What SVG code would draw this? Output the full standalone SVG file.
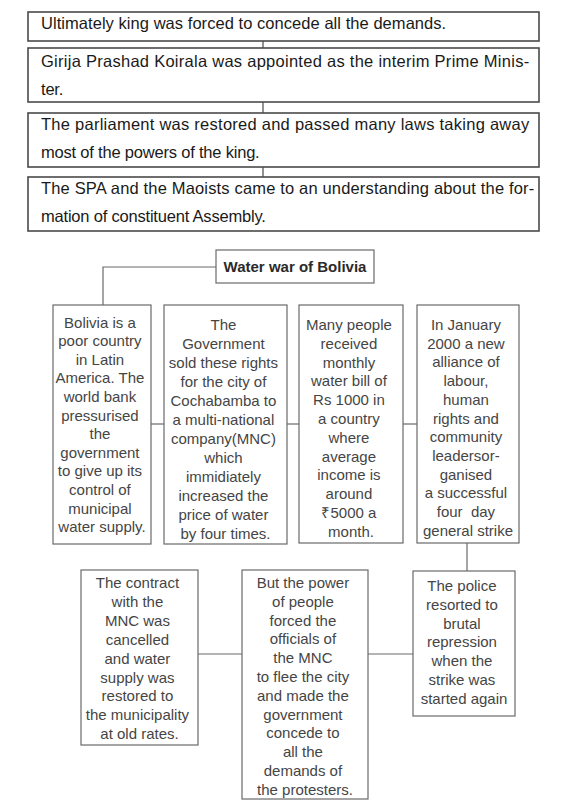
<svg xmlns="http://www.w3.org/2000/svg" width="577" height="802" viewBox="0 0 577 802">
<style>
.bg{fill:#ffffff}
.tb{fill:#ffffff;stroke:#4a4a4a;stroke-width:1.6}
.bb{fill:#ffffff;stroke:#6a6a6a;stroke-width:1.2}
.tt{font-family:"Liberation Sans",Arial,sans-serif;font-size:16.5px;fill:#1a1a1a;letter-spacing:-0.2px}
.bt{font-family:"Liberation Sans",Arial,sans-serif;font-size:15px;fill:#454545;text-anchor:middle}
.hd{font-family:"Liberation Sans",Arial,sans-serif;font-size:15px;font-weight:bold;fill:#2a2a2a;text-anchor:middle}
.ln{fill:none;stroke:#6a6a6a;stroke-width:1.2}
.tl{fill:none;stroke:#4a4a4a;stroke-width:1.2}
</style>
<rect class="bg" x="0" y="0" width="577" height="802"/>
<g id="connectors">
<line class="tl" x1="263" y1="41" x2="263" y2="48"/>
<line class="tl" x1="263" y1="102" x2="263" y2="113"/>
<line class="tl" x1="263" y1="167" x2="263" y2="177"/>
<polyline class="ln" points="216,267 103,267 103,305"/>
<line class="ln" x1="151" y1="424" x2="164" y2="424"/>
<line class="ln" x1="287" y1="424" x2="299" y2="424"/>
<line class="ln" x1="403" y1="424" x2="417" y2="424"/>
<line class="ln" x1="467" y1="543" x2="467" y2="571"/>
<line class="ln" x1="198" y1="654" x2="242" y2="654"/>
<line class="ln" x1="368" y1="654" x2="413" y2="654"/>
</g>
<g id="n1">
<rect class="tb" x="28" y="12" width="511" height="29"/>
<text class="tt" x="41" y="29" textLength="405" lengthAdjust="spacing">Ultimately king was forced to concede all the demands.</text>
</g>
<g id="n2">
<rect class="tb" x="28" y="48" width="511" height="54"/>
<text class="tt" x="41" y="67" textLength="488" lengthAdjust="spacing">Girija Prashad Koirala was appointed as the interim Prime Minis-</text>
<text class="tt" x="41" y="95">ter.</text>
</g>
<g id="n3">
<rect class="tb" x="28" y="113" width="511" height="54"/>
<text class="tt" x="41" y="130" textLength="488" lengthAdjust="spacing">The parliament was restored and passed many laws taking away</text>
<text class="tt" x="41" y="158">most of the powers of the king.</text>
</g>
<g id="n4">
<rect class="tb" x="28" y="177" width="511" height="54"/>
<text class="tt" x="41" y="194" textLength="493" lengthAdjust="spacing">The SPA and the Maoists came to an understanding about the for-</text>
<text class="tt" x="41" y="222">mation of constituent Assembly.</text>
</g>
<g id="title">
<rect class="bb" x="216" y="250" width="158" height="33"/>
<text class="hd" x="295" y="272">Water war of Bolivia</text>
</g>
<g id="b1">
<rect class="bb" x="53" y="305" width="98" height="239"/>
<text class="bt" x="102" y="327.5">
<tspan x="102" dy="0">Bolivia is a</tspan>
<tspan x="102" dy="18.6">poor country</tspan>
<tspan x="102" dy="18.6">in Latin</tspan>
<tspan x="102" dy="18.6">America. The</tspan>
<tspan x="102" dy="18.6">world bank</tspan>
<tspan x="102" dy="18.6">pressurised</tspan>
<tspan x="102" dy="18.6">the</tspan>
<tspan x="102" dy="18.6">government</tspan>
<tspan x="102" dy="18.6">to give up its</tspan>
<tspan x="102" dy="18.6">control of</tspan>
<tspan x="102" dy="18.6">municipal</tspan>
<tspan x="102" dy="18.6">water supply.</tspan>
</text>
</g>
<g id="b2">
<rect class="bb" x="164" y="305" width="123" height="239"/>
<text class="bt" x="225.5" y="329.5">
<tspan x="225.5" dy="0">The</tspan>
<tspan x="225.5" dy="19">Government</tspan>
<tspan x="225.5" dy="19">sold these rights</tspan>
<tspan x="225.5" dy="19">for the city of</tspan>
<tspan x="225.5" dy="19">Cochabamba to</tspan>
<tspan x="225.5" dy="19">a multi-national</tspan>
<tspan x="225.5" dy="19">company(MNC)</tspan>
<tspan x="225.5" dy="19">which</tspan>
<tspan x="225.5" dy="19">immidiately</tspan>
<tspan x="225.5" dy="19">increased the</tspan>
<tspan x="225.5" dy="19">price of water</tspan>
<tspan x="225.5" dy="19">by four times.</tspan>
</text>
</g>
<g id="b3">
<rect class="bb" x="299" y="305" width="104" height="238"/>
<text class="bt" x="351" y="330">
<tspan x="351" dy="0">Many people</tspan>
<tspan x="351" dy="18.8">received</tspan>
<tspan x="351" dy="18.8">monthly</tspan>
<tspan x="351" dy="18.8">water bill of</tspan>
<tspan x="351" dy="18.8">Rs 1000 in</tspan>
<tspan x="351" dy="18.8">a country</tspan>
<tspan x="351" dy="18.8">where</tspan>
<tspan x="351" dy="18.8">average</tspan>
<tspan x="351" dy="18.8">income is</tspan>
<tspan x="351" dy="18.8">around</tspan>
<tspan x="351" dy="18.8">₹5000 a</tspan>
<tspan x="351" dy="18.8">month.</tspan>
</text>
</g>
<g id="b4">
<rect class="bb" x="417" y="305" width="102" height="238"/>
<text class="bt" x="468" y="330">
<tspan x="468" dy="0">In January</tspan>
<tspan x="468" dy="18.7">2000 a new</tspan>
<tspan x="468" dy="18.7">alliance of</tspan>
<tspan x="468" dy="18.7">labour,</tspan>
<tspan x="468" dy="18.7">human</tspan>
<tspan x="468" dy="18.7">rights and</tspan>
<tspan x="468" dy="18.7">community</tspan>
<tspan x="468" dy="18.7">leadersor-</tspan>
<tspan x="468" dy="18.7">ganised</tspan>
<tspan x="468" dy="18.7">a successful</tspan>
<tspan x="468" dy="18.7" xml:space="preserve">four  day</tspan>
<tspan x="468" dy="18.7">general strike</tspan>
</text>
</g>
<g id="b5">
<rect class="bb" x="81" y="570" width="117" height="175"/>
<text class="bt" x="139.5" y="588">
<tspan x="139.5" dy="0">The contract</tspan>
<tspan x="139.5" dy="18.9">with the</tspan>
<tspan x="139.5" dy="18.9">MNC was</tspan>
<tspan x="139.5" dy="18.9">cancelled</tspan>
<tspan x="139.5" dy="18.9">and water</tspan>
<tspan x="139.5" dy="18.9">supply was</tspan>
<tspan x="139.5" dy="18.9">restored to</tspan>
<tspan x="139.5" dy="18.9">the municipality</tspan>
<tspan x="139.5" dy="18.9">at old rates.</tspan>
</text>
</g>
<g id="b6">
<rect class="bb" x="242" y="570" width="126" height="229"/>
<text class="bt" x="305" y="588">
<tspan x="305" dy="0">But the power</tspan>
<tspan x="305" dy="18.8">of people</tspan>
<tspan x="305" dy="18.8">forced the</tspan>
<tspan x="305" dy="18.8">officials of</tspan>
<tspan x="305" dy="18.8">the MNC</tspan>
<tspan x="305" dy="18.8">to flee the city</tspan>
<tspan x="305" dy="18.8">and made the</tspan>
<tspan x="305" dy="18.8">government</tspan>
<tspan x="305" dy="18.8">concede to</tspan>
<tspan x="305" dy="18.8">all the</tspan>
<tspan x="305" dy="18.8">demands of</tspan>
<tspan x="305" dy="18.8">the protesters.</tspan>
</text>
</g>
<g id="b7">
<rect class="bb" x="413" y="571" width="102" height="145"/>
<text class="bt" x="464" y="591">
<tspan x="464" dy="0">The police</tspan>
<tspan x="464" dy="18.8">resorted to</tspan>
<tspan x="464" dy="18.8">brutal</tspan>
<tspan x="464" dy="18.8">repression</tspan>
<tspan x="464" dy="18.8">when the</tspan>
<tspan x="464" dy="18.8">strike was</tspan>
<tspan x="464" dy="18.8">started again</tspan>
</text>
</g>
</svg>
